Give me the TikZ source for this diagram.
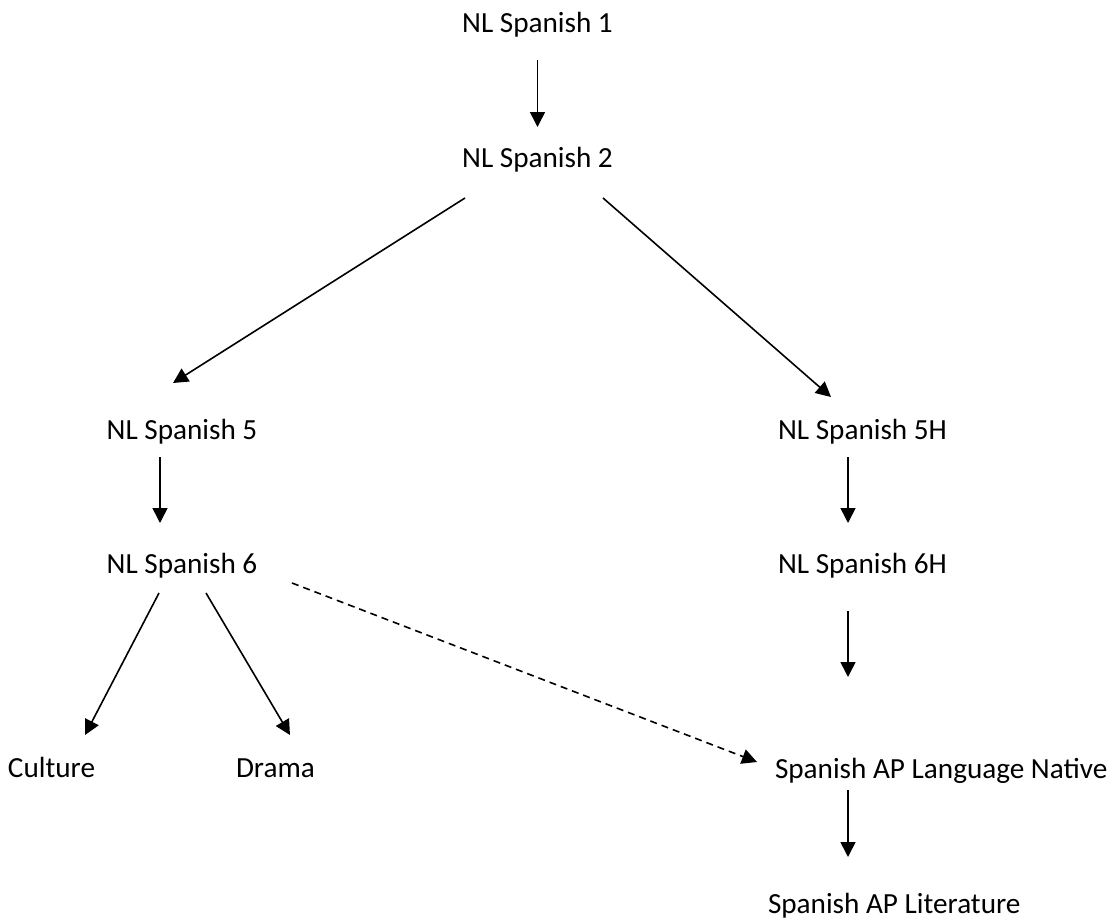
\documentclass[tikz,border=0pt]{standalone}
\usepackage{fontspec}
\setmainfont{Carlito}
\usetikzlibrary{arrows.meta,calc}
\begin{document}
\begin{tikzpicture}[x=1pt,y=-1pt,
  lbl/.style={inner sep=0pt,outer sep=0pt,anchor=base,font=\fontsize{29.2}{35}\selectfont,text height=20pt,text depth=6pt},
  arr/.style={line width=1.6pt,-{Triangle[width=15pt,length=15pt]}},
  darr/.style={arr,dash pattern=on 7pt off 5pt}]
\useasboundingbox (0,0) rectangle (1117,924);
\node[lbl] (n1) at (537.5,32) {NL Spanish 1};
\node[lbl] (n2) at (537.5,167) {NL Spanish 2};
\node[lbl] (n5) at (182,439) {NL Spanish 5};
\node[lbl] (n5h) at (862.5,439) {NL Spanish 5H};
\node[lbl] (n6) at (182,573) {NL Spanish 6};
\node[lbl] (n6h) at (862.5,573) {NL Spanish 6H};
\node[lbl,anchor=base west] (cul) at (8,777) {Culture};
\node[lbl,anchor=base west] (dra) at (236,777) {Drama};
\node[lbl,anchor=base west] (apl) at (775,778) {Spanish AP Language Native};
\node[lbl,anchor=base west] (lit) at (768,913) {Spanish AP Literature};
\draw[arr] ($(n1.base)+(0,28)$) -- ($(n2.base)+(0,-40)$);
\draw[arr] ($(n2.base)+(-72.5,31)$) -- ($(n5.base)+(-9,-56)$);
\draw[arr] ($(n2.base)+(65.5,31)$) -- ($(n5h.base)+(-31.5,-42)$);
\draw[arr] ($(n5.base)+(-22,18)$) -- ($(n6.base)+(-22,-50)$);
\draw[arr] ($(n5h.base)+(-14.5,18)$) -- ($(n6h.base)+(-14.5,-50)$);
\draw[arr] ($(n6h.base)+(-14.5,38)$) -- ($(apl.base west)+(73,-101)$);
\draw[arr] ($(n6.base)+(-23,20)$) -- ($(cul.base west)+(77,-42)$);
\draw[arr] ($(n6.base)+(24,20)$) -- ($(dra.base west)+(54,-42)$);
\draw[darr] ($(n6.base)+(110,10)$) -- ($(apl.base west)+(-18,-16)$);
\draw[arr] ($(apl.base west)+(73,12)$) -- ($(lit.base west)+(80,-56)$);
\end{tikzpicture}
\end{document}
